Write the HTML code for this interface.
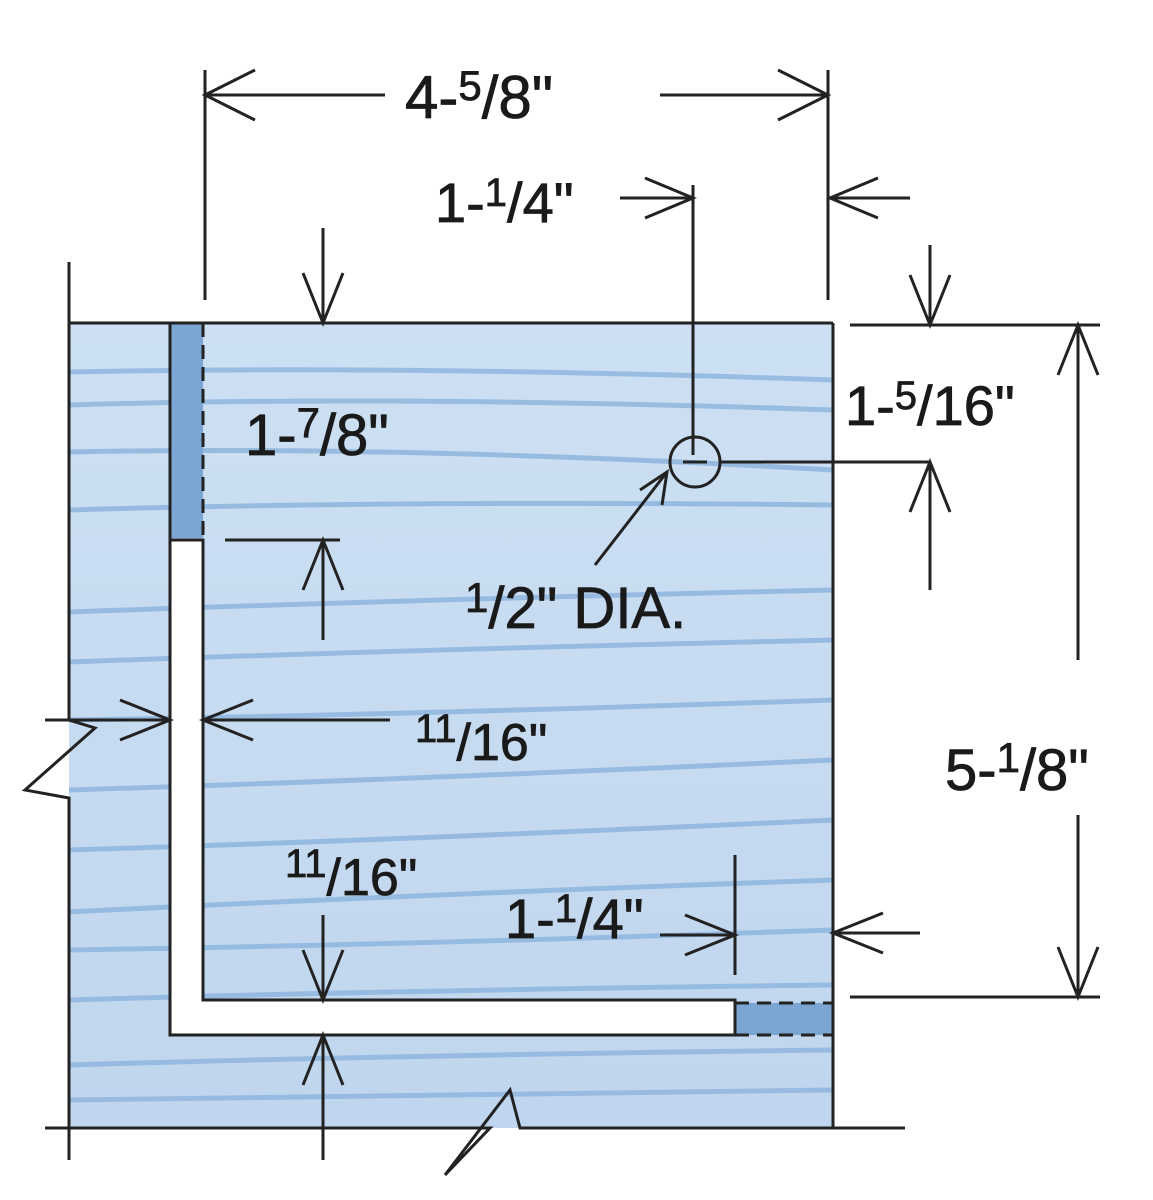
<!DOCTYPE html>
<html><head><style>
html,body{margin:0;padding:0;background:#fff;}
svg{display:block}
text{font-family:"Liberation Sans",sans-serif;fill:#1a1a1a;stroke:#1a1a1a;stroke-width:0.8;}
</style></head><body>
<svg width="1153" height="1200" viewBox="0 0 1153 1200" xmlns="http://www.w3.org/2000/svg">
<defs>
<linearGradient id="g" x1="0" y1="0" x2="0" y2="1">
<stop offset="0" stop-color="#cde0f3"/><stop offset="1" stop-color="#c0d6ee"/>
</linearGradient>
</defs>
<rect x="69" y="323" width="764" height="805" fill="url(#g)"/>
<g stroke="#8fb6de" stroke-width="5" fill="none" opacity="0.85">
<path d="M69 372 Q400 365 833 380"/>
<path d="M69 405 Q400 395 833 410"/>
<path d="M69 452 Q400 445 833 470"/>
<path d="M69 510 Q400 500 833 505"/>
<path d="M69 612 Q400 600 833 590"/>
<path d="M69 662 Q400 650 833 640"/>
<path d="M69 720 Q400 715 833 700"/>
<path d="M69 790 Q400 780 833 760"/>
<path d="M69 850 Q400 840 833 820"/>
<path d="M69 912 Q400 895 833 880"/>
<path d="M69 950 Q400 945 833 930"/>
<path d="M69 1000 Q400 990 833 985"/>
<path d="M69 1065 Q400 1055 833 1050"/>
<path d="M69 1100 Q400 1095 833 1090"/>
</g>
<rect x="170" y="323" width="33" height="215" fill="#7ba6d3"/>
<rect x="735" y="1003" width="98" height="32" fill="#7ba6d3"/>
<path d="M170 540 H203 V1000 H735 V1035 H170 Z" fill="#fff" stroke="#222" stroke-width="3"/>
<g stroke="#222" stroke-width="3" stroke-dasharray="14 8" fill="none">
<line x1="203" y1="323" x2="203" y2="538"/>
<line x1="735" y1="1003" x2="833" y2="1003"/>
<line x1="735" y1="1035" x2="833" y2="1035"/>
</g>
<line x1="170" y1="323" x2="170" y2="540" stroke="#222" stroke-width="3"/>
<line x1="170" y1="540" x2="203" y2="540" stroke="#222" stroke-width="3"/>
<g stroke="#222" stroke-width="3" fill="none">
<line x1="69" y1="323" x2="833" y2="323"/>
<line x1="833" y1="323" x2="833" y2="1128"/>
<path d="M69 262 V720 L95 728 L25 790 L69 798 V1160"/>
<path d="M45 1128 H490 L445 1175 L510 1090 L520 1128 H905"/>
<line x1="205" y1="70" x2="205" y2="300"/>
<line x1="828" y1="70" x2="828" y2="300"/>
<line x1="693" y1="185" x2="693" y2="455"/>
<line x1="850" y1="325" x2="1100" y2="325"/>
<line x1="720" y1="462" x2="930" y2="462"/>
<line x1="850" y1="997" x2="1100" y2="997"/>
<line x1="225" y1="540" x2="340" y2="540"/>
<line x1="735" y1="855" x2="735" y2="975"/>
<line x1="205" y1="95" x2="385" y2="95"/>
<line x1="660" y1="95" x2="828" y2="95"/>
<line x1="620" y1="198" x2="693" y2="198"/>
<line x1="830" y1="198" x2="910" y2="198"/>
<line x1="323" y1="228" x2="323" y2="323"/>
<line x1="930" y1="245" x2="930" y2="325"/>
<line x1="930" y1="462" x2="930" y2="590"/>
<line x1="1078" y1="325" x2="1078" y2="660"/>
<line x1="1078" y1="815" x2="1078" y2="997"/>
<line x1="323" y1="540" x2="323" y2="640"/>
<line x1="45" y1="720" x2="170" y2="720"/>
<line x1="203" y1="720" x2="390" y2="720"/>
<line x1="323" y1="915" x2="323" y2="1000"/>
<line x1="323" y1="1035" x2="323" y2="1160"/>
<line x1="660" y1="935" x2="735" y2="935"/>
<line x1="833" y1="933" x2="920" y2="933"/>
<line x1="595" y1="565" x2="667" y2="472"/>
<path d="M255 70 L205 95 L255 120"/>
<path d="M778 70 L828 95 L778 120"/>
<path d="M645 178 L693 198 L645 218"/>
<path d="M878 178 L830 198 L878 218"/>
<path d="M303 273 L323 323 L343 273"/>
<path d="M910 275 L930 325 L950 275"/>
<path d="M910 512 L930 462 L950 512"/>
<path d="M1058 375 L1078 325 L1098 375"/>
<path d="M1058 947 L1078 997 L1098 947"/>
<path d="M303 590 L323 540 L343 590"/>
<path d="M120 700 L170 720 L120 740"/>
<path d="M253 700 L203 720 L253 740"/>
<path d="M303 950 L323 1000 L343 950"/>
<path d="M303 1085 L323 1035 L343 1085"/>
<path d="M685 915 L735 935 L685 955"/>
<path d="M883 913 L833 933 L883 953"/>
<path d="M640 490 L667 472 L662 505"/>
<circle cx="695" cy="462" r="25"/>
<line x1="683" y1="462" x2="707" y2="462"/>
</g>
<text x="405" y="118" font-size="60">4-<tspan font-size="42" dy="-18">5</tspan><tspan dy="18">/8"</tspan></text>
<text x="435" y="222" font-size="56">1-<tspan font-size="40" dy="-16">1</tspan><tspan dy="16">/4"</tspan></text>
<text x="245" y="455" font-size="58">1-<tspan font-size="42" dy="-18">7</tspan><tspan dy="18">/8"</tspan></text>
<text x="845" y="425" font-size="56">1-<tspan font-size="40" dy="-16">5</tspan><tspan dy="16">/16"</tspan></text>
<text x="465" y="628" font-size="58"><tspan font-size="42" dy="-16">1</tspan><tspan dy="16">/2" DIA.</tspan></text>
<text x="415" y="760" font-size="52"><tspan font-size="40" dy="-18">11</tspan><tspan dy="18">/16"</tspan></text>
<text x="945" y="790" font-size="58">5-<tspan font-size="42" dy="-18">1</tspan><tspan dy="18">/8"</tspan></text>
<text x="285" y="895" font-size="52"><tspan font-size="40" dy="-18">11</tspan><tspan dy="18">/16"</tspan></text>
<text x="505" y="938" font-size="56">1-<tspan font-size="40" dy="-16">1</tspan><tspan dy="16">/4"</tspan></text>
</svg>
</body></html>
